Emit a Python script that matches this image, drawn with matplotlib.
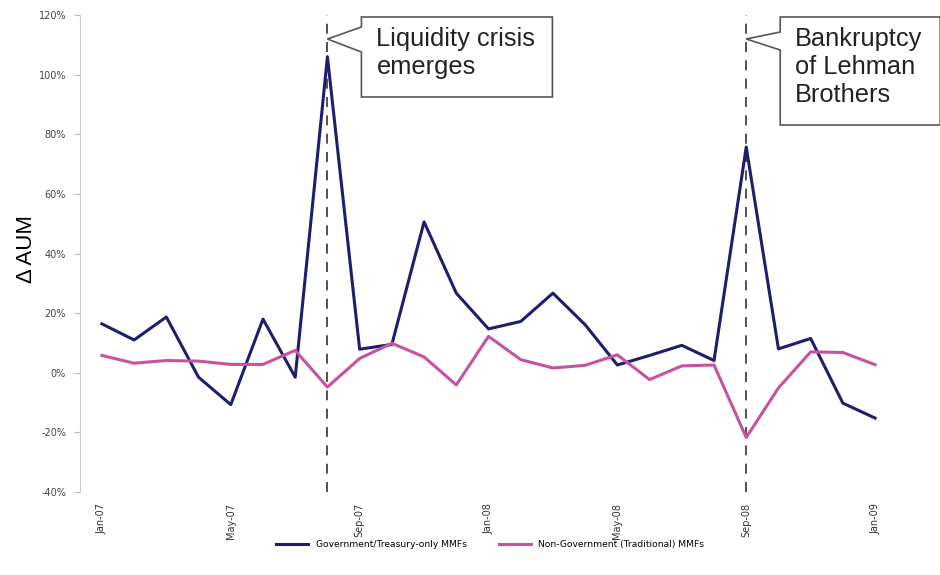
import matplotlib.pyplot as plt
from matplotlib.patches import Polygon

# monthly change in AUM, Jan-07 .. Jan-09
months = ["Jan-07", "Feb-07", "Mar-07", "Apr-07", "May-07", "Jun-07", "Jul-07", "Aug-07",
          "Sep-07", "Oct-07", "Nov-07", "Dec-07", "Jan-08", "Feb-08", "Mar-08", "Apr-08",
          "May-08", "Jun-08", "Jul-08", "Aug-08", "Sep-08", "Oct-08", "Nov-08", "Dec-08",
          "Jan-09"]
gov = [16.4, 11.0, 18.7, -1.5, -10.7, 18.0, -1.5, 106.0, 7.9, 9.5, 50.6, 26.7, 14.7,
       17.2, 26.7, 16.1, 2.6, 5.8, 9.2, 4.1, 75.7, 8.0, 11.5, -10.2, -15.2]
nongov = [5.8, 3.2, 4.1, 3.9, 2.8, 2.8, 7.5, -4.8, 4.8, 9.9, 5.3, -4.1, 12.2, 4.4, 1.6,
          2.5, 6.0, -2.3, 2.3, 2.6, -21.7, -5.1, 7.0, 6.8, 2.7]
series_names = ["Government/Treasury-only MMFs", "Non-Government (Traditional) MMFs"]
yticks = [-40, -20, 0, 20, 40, 60, 80, 100, 120]
events = ["Aug-07", "Sep-08"]
event_text = ["Liquidity crisis\nemerges", "Bankruptcy\nof Lehman\nBrothers"]

W, H = 940, 575
fig = plt.figure(figsize=(W / 100, H / 100), dpi=100)
ax = fig.add_axes([80 / W, 1 - 492 / H, (897 - 80) / W, (492 - 15) / H])

x = list(range(len(months)))
ax.plot(x, gov, color="#1e1e6e", lw=2.2, label=series_names[0])
ax.plot(x, nongov, color="#c652a0", lw=2.2, label=series_names[1])

for ev in events:
    ax.axvline(months.index(ev), color="#333333", lw=1.2, dashes=(6, 5), zorder=0)

ax.set_xlim(-0.68, 24.68)
ax.set_ylim(-40, 120)
ax.set_yticks(yticks)
ax.set_yticklabels([f"{v}%" for v in yticks], fontsize=7, color="#444444")
ax.set_xticks(x[::4])
ax.set_xticklabels(months[::4], rotation=90, fontsize=7, color="#333333")
ax.tick_params(axis="x", length=0, pad=8)
ax.tick_params(axis="y", length=4, color="#bbbbbb", pad=6)
for s in ["top", "right", "bottom"]:
    ax.spines[s].set_visible(False)
ax.spines["left"].set_color("#cccccc")
ax.set_ylabel("\u0394 AUM", fontsize=16, family="Liberation Sans")
ax.yaxis.set_label_coords(-0.053, 0.51)

ax.legend(loc="center", bbox_to_anchor=(0.502, -0.111), ncol=2, frameon=False,
          fontsize=6.6, handlelength=3.5, columnspacing=3.5)

# callout boxes (pixel layout relative to the event line)
boxes = [(191, 80, 27, 52), (160, 108, 32, 50)]
for ev, txt, (bw, bh, b0, b1) in zip(events, event_text, boxes):
    tx = ax.transData.transform((months.index(ev), 0))[0]
    ty = 39
    left = tx + 34
    top = 17
    pts = [(tx, ty), (left, b0), (left, top), (left + bw, top), (left + bw, top + bh),
           (left, top + bh), (left, b1)]
    pts = [(px / W, 1 - py / H) for px, py in pts]
    fig.patches.append(Polygon(pts, closed=True, transform=fig.transFigure,
                               facecolor="white", edgecolor="#555555", lw=1.2))
    fig.text((left + 15) / W, 1 - (top + 10) / H, txt, fontsize=18.3, va="top",
             ha="left", family="Liberation Sans", color="#222222", linespacing=1.2)

fig.savefig("out.png", dpi=100)
